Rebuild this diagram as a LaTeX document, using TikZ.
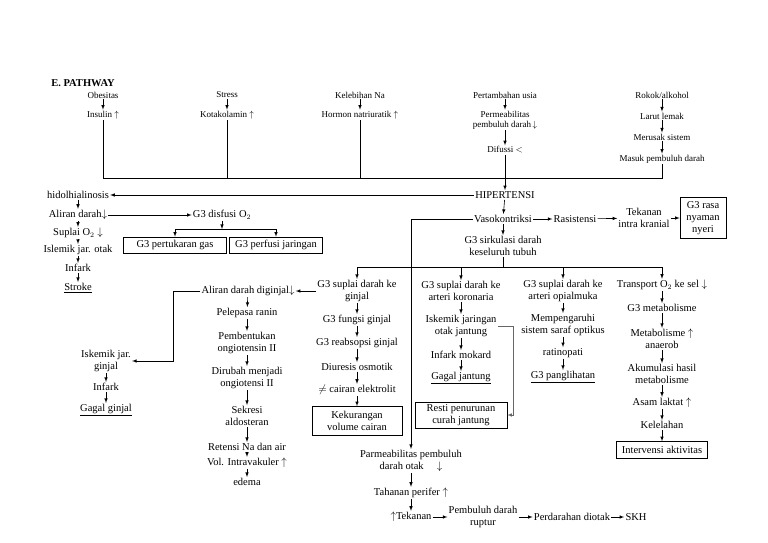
\documentclass[tikz,border=0pt]{standalone}
\usepackage{fontspec}
\setmainfont{Liberation Serif}
\usetikzlibrary{arrows}

\newcommand{\naik}{$\uparrow$}
\newcommand{\turun}{$\downarrow$}

\begin{document}
\begin{tikzpicture}[x=1pt,y=-1pt,
                every path/.style={>=latex,line width=0.6pt},
                every node/.style={align=center,inner sep=1pt,font=\fontsize{10.5}{12}\selectfont},
                atas/.style={font=\fontsize{9}{10}\selectfont},
                kotak/.style={draw,inner sep=2pt}]
  \useasboundingbox (0,0) rectangle (768,543);
  \node[anchor=west,font=\bfseries\fontsize{10.5}{12}\selectfont] (judul) at (50,83) {E. PATHWAY};
  % penyebab
  \node[atas] (ob) at (103,95)  {Obesitas};
  \node[atas] (ins) at (103,115) {Insulin \naik};
  \node[atas] (st) at (227,95)  {Stress};
  \node[atas] (kt) at (227,115) {Kotakolamin \naik};
  \node[atas] (kn) at (360,95)  {Kelebihan Na};
  \node[atas] (hn) at (360,115) {Hormon natriuratik \naik};
  \node[atas] (pu) at (505,95)  {Pertambahan usia};
  \node[atas] (pm) at (505,120) {Permeabilitas\\pembuluh darah\,\turun};
  \node[atas] (df) at (505,150) {Difussi $<$};
  \node[atas] (rk) at (662,95)  {Rokok/alkohol};
  \node[atas] (ll) at (662,116) {Larut lemak};
  \node[atas] (ms) at (662,137) {Merusak sistem};
  \node[atas] (mp) at (662,159) {Masuk pembuluh darah};
  \draw[->] (ob) edge (ins);
  \draw[->] (st) edge (kt);
  \draw[->] (kn) edge (hn);
  \draw[->] (pu) edge (pm);
  \draw[->] (pm) edge (df);
  \draw[->] (rk) edge (ll);
  \draw[->] (ll) edge (ms);
  \draw[->] (ms) edge (mp);
  \coordinate (hl) at (0,178);
  \draw (ins) |- (mp.south |- hl) -- (mp);
  \draw (kt) -- (kt |- hl);
  \draw (hn) -- (hn |- hl);
  \node (hip) at (505,195) {HIPERTENSI};
  \draw[->] (df) -- (hip);
  % otak
  \node (hid) at (78,195) {hidolhialinosis};
  \node (ad)  at (78,215) {Aliran darah\turun};
  \node (so)  at (78,233) {Suplai O$_2$ \turun};
  \node (io)  at (78,250) {Islemik jar. otak};
  \node (inf) at (78,268) {Infark};
  \node (stk) at (78,288) {\underline{Stroke}};
  \draw[->] (hip) -- (hid);
  \draw[->] (hid) edge (ad);
  \draw[->] (ad) edge (so);
  \draw[->] (so) edge (io);
  \draw[->] (io) edge (inf);
  \draw[->] (inf) edge (stk);
  \node (gd) at (222,215) {G3 disfusi O$_2$};
  \node[kotak,minimum width=103,minimum height=16] (gpg) at (175,245) {G3 pertukaran gas};
  \node[kotak,minimum width=93,minimum height=16] (gpj) at (276,245) {G3 perfusi jaringan};
  \draw[->] (ad) -- (gd);
  \coordinate (br) at (0,229);
  \draw[->] (gd) -- (gd |- br);
  \draw[->] (gd |- br) -| (gpg);
  \draw[->] (gd |- br) -| (gpj);
  % vasokontriksi
  \node (vk) at (503,219) {Vasokontriksi};
  \node (rs) at (575,219) {Rasistensi};
  \node (tk) at (644,218) {Tekanan\\intra kranial};
  \node[kotak,minimum width=46,minimum height=41] (nyeri) at (703,218) {G3 rasa\\nyaman\\nyeri};
  \draw[->] (hip) -- (vk);
  \draw[->] (vk) -- (rs);
  \draw[->] (rs) -- (tk);
  \draw[->] (tk) -- (nyeri);
  \node (sk) at (503,246) {G3 sirkulasi darah\\keseluruh tubuh};
  \draw[->] (vk) -- (sk);
  \node (sg)  at (357,291) {G3 suplai darah ke\\ginjal};
  \node (sko) at (461,291) {G3 suplai darah ke\\arteri koronaria};
  \node (sop) at (563,291) {G3 suplai darah ke\\arteri opialmuka};
  \node (tr)  at (662,285) {Transport O$_2$ ke sel \turun};
  \coordinate (bus) at (0,267);
  \draw (sk) -- (sk |- bus);
  \draw[->] (sk |- bus) -| (sg);
  \draw[->] (sk |- bus) -| (sko);
  \draw[->] (sk |- bus) -| (sop);
  \draw[->] (sk |- bus) -| (tr);
  % ginjal
  \node (fg)  at (357,320) {G3 fungsi ginjal};
  \node (rg)  at (357,343) {G3 reabsopsi ginjal};
  \node (dos) at (357,367) {Diuresis osmotik};
  \node (ce)  at (357,390) {$\neq$ cairan elektrolit};
  \node[kotak,minimum width=90,minimum height=29] (kvc) at (357,421) {Kekurangan\\volume cairan};
  \draw[->] (sg) edge (fg);
  \draw[->] (fg) edge (rg);
  \draw[->] (rg) edge (dos);
  \draw[->] (dos) edge (ce);
  \draw[->] (ce) edge (kvc);
  \node (adg) at (248,291) {Aliran darah diginjal\turun};
  \draw[->] (sg) -- (adg);
  \node (ikg) at (106,361) {Iskemik jar.\\ginjal};
  \node (ifk) at (106,387) {Infark};
  \node (ggj) at (106,410) {\underline{Gagal ginjal}};
  \coordinate (ka) at (173,291);
  \draw[->] (adg) -- (ka) |- (ikg);
  \draw[->] (ikg) edge (ifk);
  \draw[->] (ifk) edge (ggj);
  % renin
  \node (pr) at (247,313) {Pelepasa ranin};
  \node (pa) at (247,343) {Pembentukan\\ongiotensin II};
  \node (dm) at (247,378) {Dirubah menjadi\\ongiotensi II};
  \node (sa) at (247,416) {Sekresi\\aldosteran};
  \node (rn) at (247,447) {Retensi Na dan air};
  \node (vi) at (247,463) {Vol. Intravakuler \naik};
  \node (ed) at (247,482) {edema};
  \draw[->] (adg) edge (pr);
  \draw[->] (pr) edge (pa);
  \draw[->] (pa) edge (dm);
  \draw[->] (dm) edge (sa);
  \draw[->] (sa) edge (rn);
  \draw[->] (rn) edge (vi);
  \draw[->] (vi) edge (ed);
  % jantung
  \node (ij) at (461,326) {Iskemik jaringan\\otak jantung};
  \node (im) at (461,355) {Infark mokard};
  \node (gj) at (461,378) {\underline{Gagal jantung}};
  \node[kotak,minimum width=92,minimum height=26] (rpc) at (461,415) {Resti penurunan\\curah jantung};
  \draw[->] (sko) edge (ij);
  \draw[->] (ij) edge (im);
  \draw[->] (im) edge (gj);
  \coordinate (kj) at (513,0);
  \draw[->,black!60] (ij.east) -- (ij.east -| kj) |- (rpc);
  % mata
  \node (msp) at (563,325) {Mempengaruhi\\sistem saraf optikus};
  \node (rt)  at (563,353) {ratinopati};
  \node (gp)  at (563,377) {\underline{G3 panglihatan}};
  \draw[->] (sop) edge (msp);
  \draw[->] (msp) edge (rt);
  \draw[->] (rt) edge (gp);
  % metabolisme
  \node (gm) at (662,308) {G3 metabolisme};
  \node (ma) at (662,339) {Metabolisme \naik\\anaerob};
  \node (ah) at (662,374) {Akumulasi hasil\\metabolisme};
  \node (al) at (662,403) {Asam laktat \naik};
  \node (kl) at (662,425) {Kelelahan};
  \node[kotak,minimum width=91,minimum height=17] (ia) at (662,450) {Intervensi aktivitas};
  \draw[->] (tr) edge (gm);
  \draw[->] (gm) edge (ma);
  \draw[->] (ma) edge (ah);
  \draw[->] (ah) edge (al);
  \draw[->] (al) edge (kl);
  \draw[->] (kl) edge (ia);
  % perdarahan
  \node (pb)  at (411,461) {Parmeabilitas pembuluh\\darah otak \quad\turun};
  \node (tp)  at (411,493) {Tahanan perifer \naik};
  \node (tek) at (411,517) {\naik Tekanan};
  \node (pdr) at (483,517) {Pembuluh darah\\ruptur};
  \node (pdo) at (572,517) {Perdarahan diotak};
  \node (skh) at (636,517) {SKH};
  \draw[->] (vk) -| (pb);
  \draw[->] (pb) edge (tp);
  \draw[->] (tp) edge (tek);
  \draw[->] (tek) edge (pdr);
  \draw[->] (pdr) edge (pdo);
  \draw[->] (pdo) edge (skh);
\end{tikzpicture}
\end{document}
